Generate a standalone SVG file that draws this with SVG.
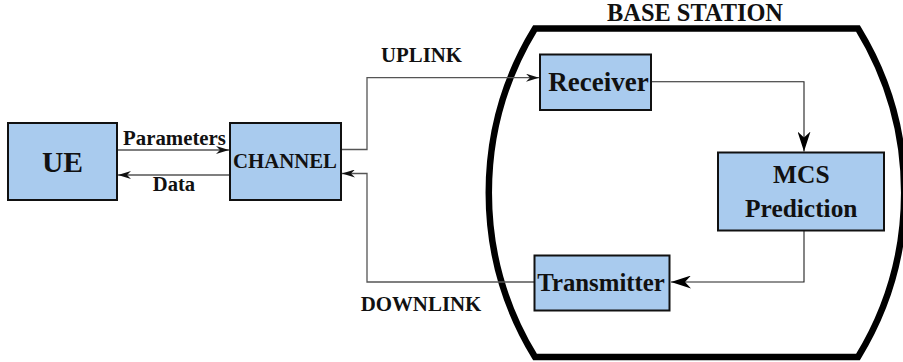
<svg xmlns="http://www.w3.org/2000/svg" width="903" height="362" viewBox="0 0 903 362">
<style>
  .box { fill: #a9cbee; stroke: #111; stroke-width: 2; }
  .lbl { font-family: "Liberation Serif", "Times New Roman", serif; font-weight: bold; fill: #111; text-anchor: middle; }
  .gline { fill: none; stroke: #555; stroke-width: 1.3; }
  .bline { fill: none; stroke: #222; stroke-width: 1.1; }
  .bs { fill: none; stroke: #000; stroke-width: 6.5; stroke-linejoin: miter; }
</style>
<defs>
  <marker id="ahs" markerUnits="userSpaceOnUse" markerWidth="14" markerHeight="8" refX="13" refY="4" orient="auto">
    <path d="M0,0 L13,4 L0,8 L4,4 z" fill="#111"/>
  </marker>
  <marker id="ahl" markerUnits="userSpaceOnUse" markerWidth="21" markerHeight="13" refX="20" refY="6.5" orient="auto">
    <path d="M0,0 L20,6.5 L0,13 L6,6.5 z" fill="#000"/>
  </marker>
</defs>
<rect width="903" height="362" fill="#fff"/>

<g id="base-station">
  <path class="bs" d="M535,28.5 L858,28.5 A315,315 0 0 1 858,357 L535,357 A315,315 0 0 1 535,28.5 Z"/>
  <text class="lbl" x="695" y="20.7" font-size="24.4">BASE STATION</text>
</g>

<g id="connectors">
  <polyline class="gline" points="117,150 229,150" marker-end="url(#ahs)"/>
  <polyline class="gline" points="230,175 118,175" marker-end="url(#ahs)"/>
  <polyline class="gline" points="341,149.5 367,149.5 367,77.7 539,77.7" marker-end="url(#ahs)"/>
  <polyline class="bline" points="651,81.7 804,81.7 804,151.5" marker-end="url(#ahl)"/>
  <polyline class="bline" points="804,231 804,282 671,282" marker-end="url(#ahl)"/>
  <polyline class="gline" points="534,282 367,282 367,173.5 342,173.5" marker-end="url(#ahs)"/>
  <text class="lbl" x="174.5" y="145" font-size="20.8">Parameters</text>
  <text class="lbl" x="174" y="190.7" font-size="20.6">Data</text>
  <text class="lbl" x="421.5" y="62" font-size="20.8">UPLINK</text>
  <text class="lbl" x="421" y="311" font-size="20.9">DOWNLINK</text>
</g>

<g id="ue">
  <rect class="box" x="8" y="123" width="109" height="77"/>
  <text class="lbl" x="62.5" y="171.7" font-size="29.6">UE</text>
</g>

<g id="channel">
  <rect class="box" x="230" y="123" width="111" height="77"/>
  <text class="lbl" x="285" y="168.3" font-size="20.8">CHANNEL</text>
</g>

<g id="receiver">
  <rect class="box" x="540" y="54.5" width="111" height="55.5"/>
  <text class="lbl" x="598.5" y="90.7" font-size="27">Receiver</text>
</g>

<g id="mcs-prediction">
  <rect class="box" x="718" y="152.5" width="166" height="78"/>
  <text class="lbl" x="801.3" y="183.3" font-size="25.4">MCS</text>
  <text class="lbl" x="801.3" y="216.7" font-size="25.4">Prediction</text>
</g>

<g id="transmitter">
  <rect class="box" x="534.5" y="255.5" width="135" height="55"/>
  <text class="lbl" x="601" y="291" font-size="24.8">Transmitter</text>
</g>
</svg>
